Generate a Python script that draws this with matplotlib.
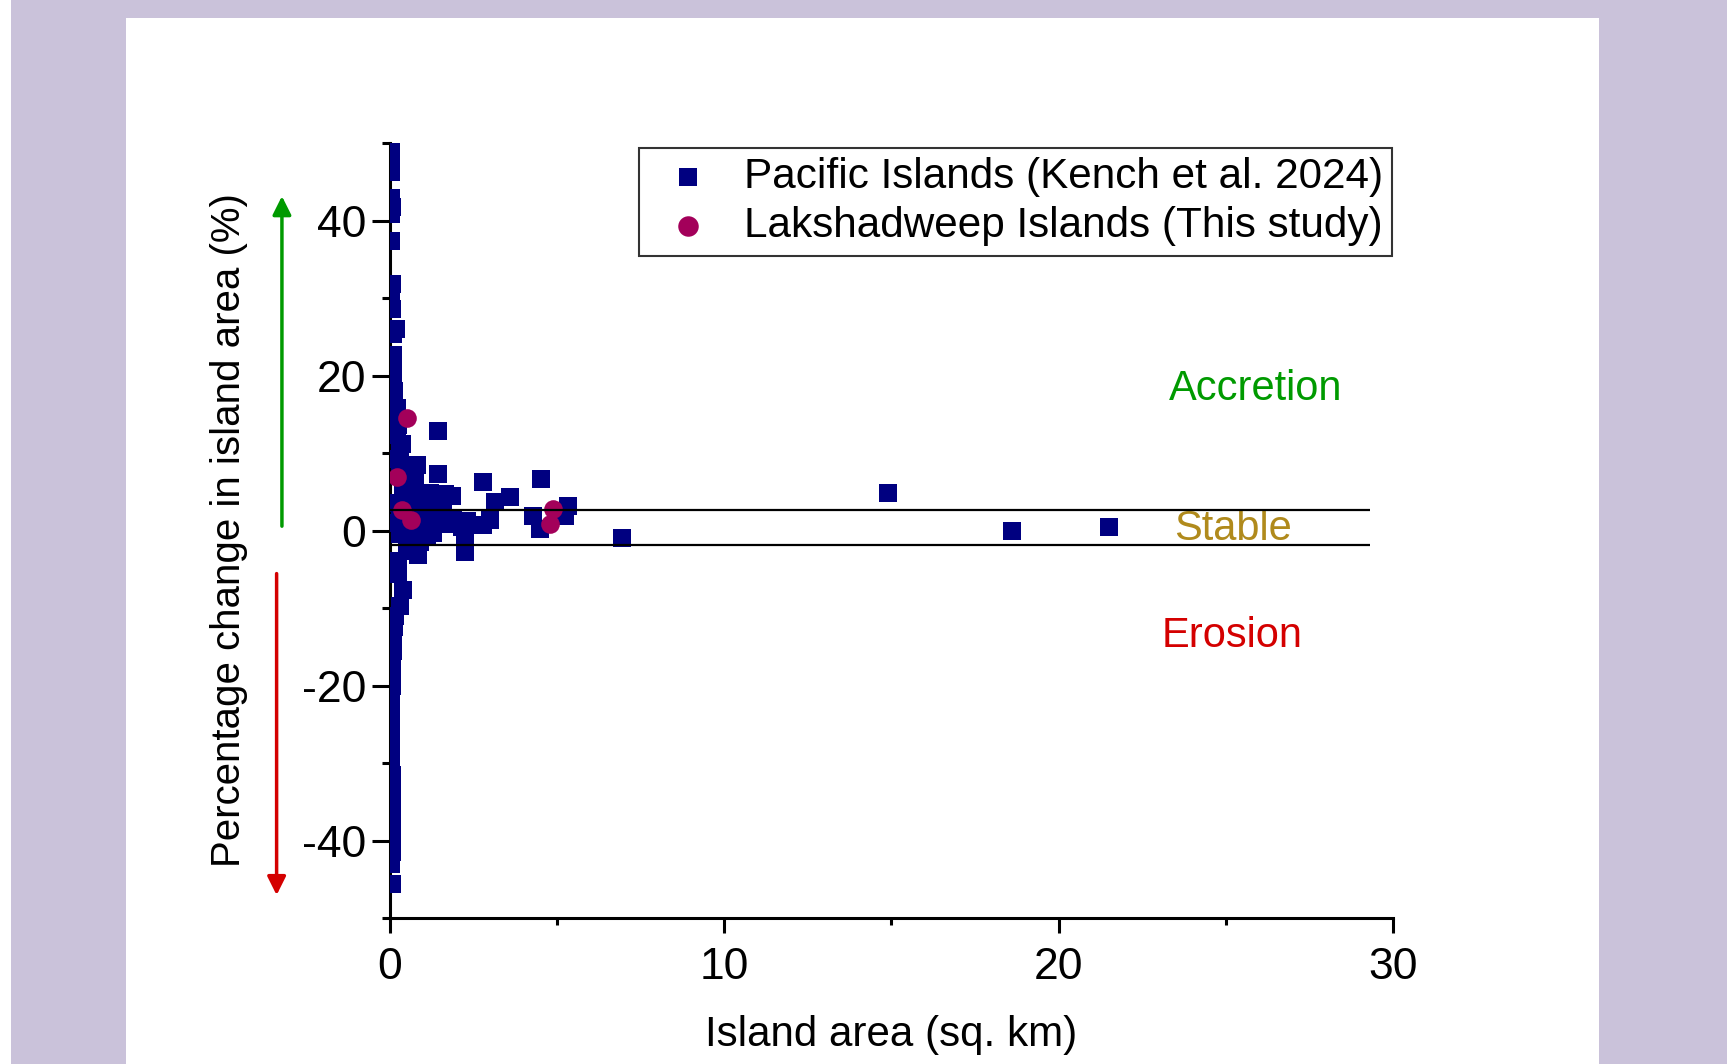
# Percentage change in island area vs island area
import matplotlib
matplotlib.use('Agg')
import matplotlib.pyplot as plt
from matplotlib.patches import Rectangle

plt.rcParams['font.family'] = ['Liberation Sans', 'DejaVu Sans']
plt.rcParams['axes.unicode_minus'] = False

# Pacific Islands (Kench et al. 2024): island area (sq. km) and change (%)
pacific_area = [0.02, 0.03, 0.03, 0.04, 0.05, 0.04, 0.04, 0.05, 0.04, 0.06,
                0.17, 0.10, 0.08, 0.10, 0.06, 0.09, 0.12, 0.10, 0.20, 0.15,
                0.25, 0.20, 0.35, 0.30, 0.28, 0.80, 0.45, 0.60, 0.30, 1.45,
                1.45, 0.75, 0.40, 1.20, 0.70, 1.65, 1.85, 1.30, 0.40, 0.95,
                1.50, 0.20, 0.70, 1.10, 1.60, 0.30, 0.90, 1.45, 1.90, 2.14,
                2.30, 2.24, 2.79, 4.51, 3.59, 3.14, 5.33, 5.23, 4.29, 4.49,
                2.99, 2.79, 2.24, 1.10, 0.60, 0.30, 0.15, 1.20, 0.85, 0.50,
                0.25, 0.25, 0.40, 0.30, 0.15, 0.12, 0.10, 0.08, 0.06, 0.05,
                0.05, 0.04, 0.04, 0.04, 0.04, 0.04, 0.04, 0.04, 0.05, 0.05,
                0.06, 0.05, 0.06, 0.05, 0.05, 0.04, 0.05, 0.55, 0.90, 1.30,
                1.70, 1.00, 0.40, 6.93, 14.89, 18.61, 21.51]
pacific_change = [49.4, 47.5, 46.2, 42.9, 41.8, 40.8, 37.4, 31.8, 30.2, 28.6,
                  26.0, 25.4, 22.6, 21.4, 20.3, 19.2, 18.0, 16.8, 15.8, 14.8,
                  13.6, 12.3, 11.2, 10.1, 9.2, 8.5, 8.0, 7.6, 7.0, 12.8,
                  7.3, 7.2, 6.0, 4.9, 5.3, 4.7, 4.4, 4.6, 4.4, 4.0,
                  3.6, 3.6, 3.1, 2.8, 2.5, 1.9, 1.8, 1.1, 1.6, 0.4,
                  1.2, -0.6, 6.2, 6.6, 4.3, 3.65, 3.2, 1.9, 1.9, 0.2,
                  1.3, 0.7, -2.8, -0.9, 0.4, -0.5, 1.0, 0.3, -3.2, -1.8,
                  -3.9, -5.6, -7.7, -9.7, -11.0, -12.5, -14.0, -15.5, -17.0, -18.5,
                  -20.0, -21.5, -23.0, -24.5, -26.0, -27.5, -29.0, -30.2, -31.5, -33.8,
                  -35.5, -37.0, -38.5, -40.0, -41.5, -43.0, -45.6, -2.7, -1.5, -0.3,
                  0.8, 1.0, 0.8, -1.0, 4.9, -0.1, 0.45]

# Lakshadweep Islands (this study)
lak_area = [0.50, 0.20, 0.35, 0.62, 4.87, 4.79]
lak_change = [14.5, 6.9, 2.6, 1.4, 2.8, 0.8]

# stable band limits (%)
stable_upper = 2.7
stable_lower = -1.9

fig = plt.figure(figsize=(17.27, 10.64), dpi=100)
fig.patch.set_facecolor('#CAC2DA')
fig.patches.append(Rectangle((0, 0), 0.0064, 1, transform=fig.transFigure,
                             facecolor='white', edgecolor='none', zorder=-5))
fig.patches.append(Rectangle((0.0727, 0), 0.8532, 0.9835, transform=fig.transFigure,
                             facecolor='white', edgecolor='none', zorder=-5))

ax = fig.add_axes([0.2258, 0.1372, 0.5808, 0.7284])
ax.set_facecolor('none')

ax.scatter(pacific_area, pacific_change, marker='s', s=150, color='#000080',
           linewidths=0, label='Pacific Islands (Kench et al. 2024)', zorder=3)
ax.scatter(lak_area, lak_change, marker='o', s=180, color='#A3005A',
           linewidths=0, label='Lakshadweep Islands (This study)', zorder=4)

ax.hlines([stable_upper, stable_lower], 0, 29.3, colors='black', lw=1.6, zorder=5)

ax.set_xlim(0, 30)
ax.set_ylim(-50, 50)
ax.set_xticks([0, 10, 20, 30])
ax.set_xticks([5, 15, 25], minor=True)
ax.set_yticks([-40, -20, 0, 20, 40])
ax.set_yticks([-50, -30, -10, 10, 30, 50], minor=True)
ax.tick_params(axis='both', which='major', labelsize=32, width=2.2, direction='out')
ax.tick_params(axis='y', which='major', length=13, pad=4)
ax.tick_params(axis='y', which='minor', length=6, width=2.2)
ax.tick_params(axis='x', which='major', length=11, pad=10)
ax.tick_params(axis='x', which='minor', length=5, width=2.2)

for side in ['top', 'right']:
    ax.spines[side].set_visible(False)
for side in ['left', 'bottom']:
    ax.spines[side].set_linewidth(2.2)

ax.set_xlabel('Island area (sq. km)', fontsize=30.3)
ax.set_ylabel('Percentage change in island area (%)', fontsize=29)
ax.xaxis.set_label_coords(0.5, -0.125)
ax.yaxis.set_label_coords(-0.142, 0.5)

# zone labels
ax.text(25.9, 18.2, 'Accretion', color='#009A00', fontsize=30, ha='center', va='center')
ax.text(25.2, 0.2, 'Stable', color='#B08A1C', fontsize=30, ha='center', va='center')
ax.text(25.2, -13.6, 'Erosion', color='#D40000', fontsize=30, ha='center', va='center')

# accretion / erosion arrows left of the axis
ax.annotate('', xy=(-0.1077, 43.5), xytext=(-0.1077, 0.2),
            xycoords=('axes fraction', 'data'),
            arrowprops=dict(arrowstyle='-|>', color='#009A00', lw=2.5, mutation_scale=28))
ax.annotate('', xy=(-0.113, -47.4), xytext=(-0.113, -5.2),
            xycoords=('axes fraction', 'data'),
            arrowprops=dict(arrowstyle='-|>', color='#D40000', lw=2.5, mutation_scale=28))

leg = ax.legend(loc='upper right', bbox_to_anchor=(0.999, 0.994), fontsize=30.4,
                frameon=True, fancybox=False, borderaxespad=0, borderpad=0.22,
                handlelength=1.85, handletextpad=0.4, labelspacing=0.22, markerscale=1.1)
leg.get_frame().set_edgecolor('black')
leg.get_frame().set_linewidth(1.5)

plt.savefig('out.png', dpi=100, facecolor=fig.get_facecolor())
